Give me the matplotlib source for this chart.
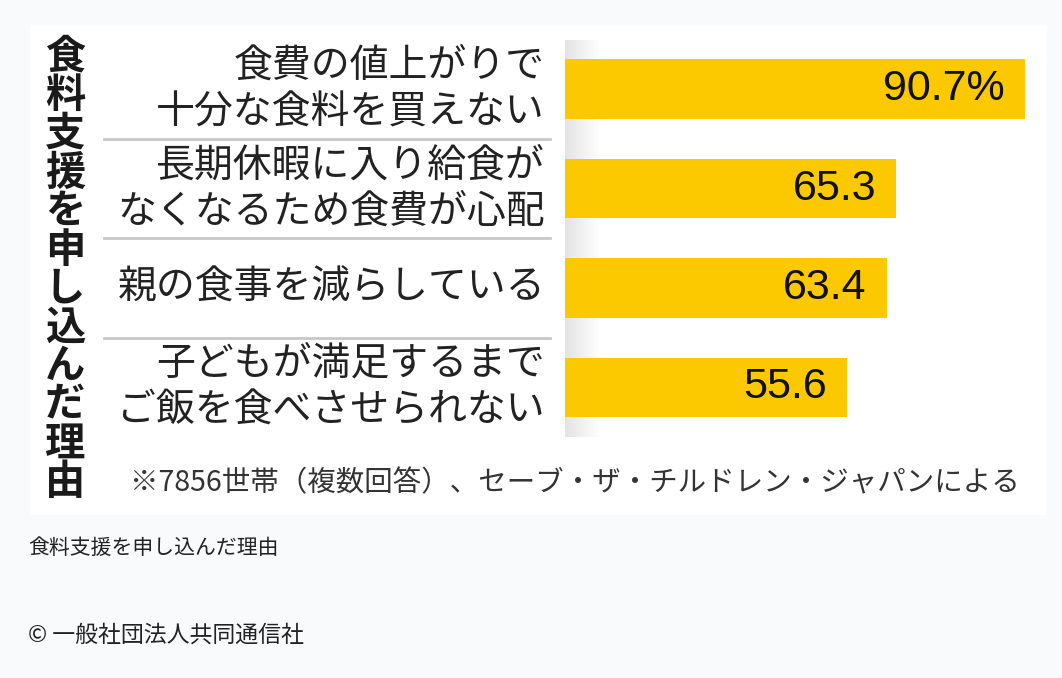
import numpy as np
import matplotlib
matplotlib.use("Agg")
import matplotlib.pyplot as plt
from matplotlib.patches import Rectangle
from matplotlib.colors import LinearSegmentedColormap
import matplotlib.transforms as mtransforms

plt.rcParams['font.family'] = ['Noto Sans CJK JP', 'DejaVu Sans']

# Data
reasons = [
    "食費の値上がりで\n十分な食料を買えない",
    "長期休暇に入り給食が\nなくなるため食費が心配",
    "親の食事を減らしている",
    "子どもが満足するまで\nご飯を食べさせられない",
]
shares = [90.7, 65.3, 63.4, 55.6]
value_labels = ["90.7%", "65.3", "63.4", "55.6"]
title = "食料支援を申し込んだ理由"
note = "※7856世帯（複数回答）、セーブ・ザ・チルドレン・ジャパンによる"
caption = "食料支援を申し込んだ理由"
credit = "© 一般社団法人共同通信社"

W, H = 1062, 678
fig = plt.figure(figsize=(W / 100, H / 100), dpi=100, facecolor='#f9fafc')

# white panel of the chart image
fig.patches.append(Rectangle((30 / W, 1 - 515 / H), (1047 - 30) / W, (515 - 25) / H,
                             transform=fig.transFigure, facecolor='white',
                             edgecolor='none', zorder=-5))

ax = fig.add_axes([565 / W, 1 - 437 / H, (1050 - 565) / W, (437 - 39.5) / H])
ax.set_zorder(1)
ax.patch.set_alpha(0)
ax.axis('off')

# soft grey shading at the bar base
shade = LinearSegmentedColormap.from_list('shade', ['#e4e4e4', '#ffffff'])
ax.imshow(np.linspace(0, 1, 50).reshape(1, -1), cmap=shade, aspect='auto',
          extent=(0, 7, len(shares) - 0.5, -0.5), zorder=0)

ypos = np.arange(len(shares))
ax.barh(ypos, shares, height=0.6, color='#fcc800', zorder=2)
ax.set_xlim(0, 485 / 5.072)
ax.set_ylim(len(shares) - 0.5, -0.5)

for i, (v, lab) in enumerate(zip(shares, value_labels)):
    ax.annotate(lab, xy=(v, i), xytext=(-20, 0), textcoords='offset pixels',
                ha='right', va='center', fontsize=31, color='#111111',
                family=['Liberation Sans', 'DejaVu Sans'], zorder=3)

for i, r in enumerate(reasons):
    ax.annotate(r, xy=(0, i), xytext=(-20, 0), textcoords='offset pixels',
                ha='right', va='center', multialignment='right',
                fontsize=28, color='#222222', linespacing=1.22,
                annotation_clip=False)

# separators between categories
trans = mtransforms.blended_transform_factory(fig.transFigure, ax.transData)
for y in ypos[:-1] + 0.5:
    ax.plot([104 / W, 550 / W], [y, y], transform=trans, color='#c8c8c8',
            lw=2, clip_on=False)

# vertical title
for k, ch in enumerate(title):
    fig.text(65 / W, 1 - (57 + k * 38.7) / H, ch, ha='center', va='center',
             fontsize=29, fontweight='bold', color='#1a1a1a')

fig.text(130 / W, 1 - 483 / H, note, ha='left', va='center', fontsize=20.5,
         color='#333333')
fig.text(28 / W, 1 - 548 / H, caption, ha='left', va='center', fontsize=15,
         color='#222222')
fig.text(28 / W, 1 - 635 / H, credit, ha='left', va='center', fontsize=16.5,
         color='#222222')

fig.savefig('out.png', dpi=100, facecolor=fig.get_facecolor())
